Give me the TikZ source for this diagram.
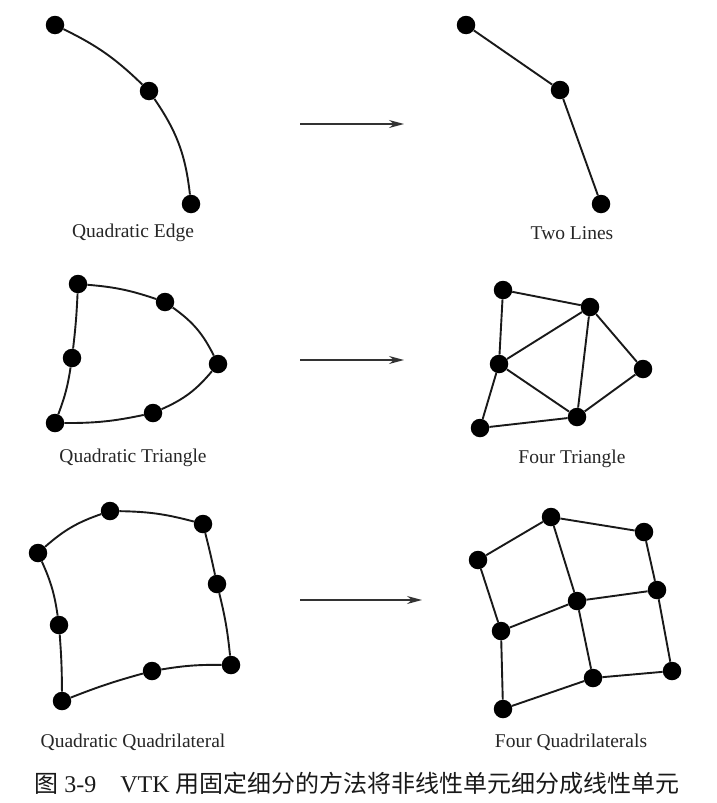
\documentclass[tikz,border=0pt]{standalone}
\usepackage{fontspec}
\setmainfont{Liberation Serif}
\newfontfamily\cjk{Noto Sans CJK SC}
\usetikzlibrary{arrows.meta}

\begin{document}
\begin{tikzpicture}[x=1pt, y=-1pt,
  vtx/.style={circle, fill=black, minimum size=18.5pt, inner sep=0pt},
  edg/.style={line width=1.9pt, color=black!90},
  sub/.style={-{Stealth[length=15pt, width=8pt]}, line width=1.2pt, color=black!80},
  lbl/.style={font=\fontsize{19.5}{22}\selectfont, color=black!85}
]
  \useasboundingbox (0,0) rectangle (716,803);

  % ── quadratic edge ──────────────────────────────────────────────────────
  \node[vtx] (a1) at (55,25)  {};
  \node[vtx] (a2) at (149,91) {};
  \node[vtx] (a3) at (191,204) {};
  \draw[edg] (a1) to[bend left=9] (a2);
  \draw[edg] (a2) to[bend left=14] (a3);
  \node[lbl] (a) at (133,233) {Quadratic Edge};

  % ── two lines ───────────────────────────────────────────────────────────
  \node[vtx] (b1) at (466,25)  {};
  \node[vtx] (b2) at (560,90)  {};
  \node[vtx] (b3) at (601,204) {};
  \draw[edg] (b1) -- (b2);
  \draw[edg] (b2) -- (b3);
  \node[lbl] (b) at (572,233) {Two Lines};

  % ── quadratic triangle ──────────────────────────────────────────────────
  \node[vtx] (c1) at (78,284)  {};
  \node[vtx] (c2) at (165,302) {};
  \node[vtx] (c3) at (218,364) {};
  \node[vtx] (c4) at (153,413) {};
  \node[vtx] (c5) at (55,423)  {};
  \node[vtx] (c6) at (72,358)  {};
  \draw[edg] (c1) to[bend left=7] (c2);
  \draw[edg] (c2) to[bend left=14] (c3);
  \draw[edg] (c3) to[bend left=13] (c4);
  \draw[edg] (c4) to[bend left=6] (c5);
  \draw[edg] (c5) to[bend right=6] (c6);
  \draw[edg] (c6) to[bend right=2] (c1);
  \node[lbl] (c) at (133,458) {Quadratic Triangle};

  % ── four triangle ───────────────────────────────────────────────────────
  \node[vtx] (d1) at (503,290) {};
  \node[vtx] (d2) at (590,307) {};
  \node[vtx] (d3) at (643,369) {};
  \node[vtx] (d4) at (577,417) {};
  \node[vtx] (d5) at (480,428) {};
  \node[vtx] (d6) at (499,364) {};
  \foreach \s/\t in {d1/d2, d2/d3, d3/d4, d4/d5, d5/d6, d6/d1, d6/d2, d2/d4, d4/d6}
    \draw[edg] (\s) -- (\t);
  \node[lbl] (d) at (572,459) {Four Triangle};

  % ── quadratic quadrilateral ─────────────────────────────────────────────
  \node[vtx] (e1) at (38,553)  {};
  \node[vtx] (e2) at (110,511) {};
  \node[vtx] (e3) at (203,524) {};
  \node[vtx] (e4) at (217,584) {};
  \node[vtx] (e5) at (231,665) {};
  \node[vtx] (e6) at (152,671) {};
  \node[vtx] (e7) at (62,701)  {};
  \node[vtx] (e8) at (59,625)  {};
  \draw[edg] (e1) to[bend left=11] (e2);
  \draw[edg] (e2) to[bend left=7] (e3);
  \draw[edg] (e3) to[bend left=1] (e4);
  \draw[edg] (e4) to[bend left=4] (e5);
  \draw[edg] (e5) to[bend right=5] (e6);
  \draw[edg] (e6) to[bend right=3] (e7);
  \draw[edg] (e7) to[bend right=2] (e8);
  \draw[edg] (e8) to[bend right=8] (e1);
  \node[lbl] (e) at (133,742) {Quadratic Quadrilateral};

  % ── four quadrilaterals ─────────────────────────────────────────────────
  \node[vtx] (f1) at (478,560) {};
  \node[vtx] (f2) at (551,517) {};
  \node[vtx] (f3) at (644,532) {};
  \node[vtx] (f4) at (657,590) {};
  \node[vtx] (f5) at (672,671) {};
  \node[vtx] (f6) at (593,678) {};
  \node[vtx] (f7) at (503,709) {};
  \node[vtx] (f8) at (501,631) {};
  \node[vtx] (f9) at (577,601) {};
  \foreach \s/\t in {f1/f2, f2/f3, f3/f4, f4/f5, f5/f6, f6/f7, f7/f8, f8/f1, f2/f9, f4/f9, f6/f9, f8/f9}
    \draw[edg] (\s) -- (\t);
  \node[lbl] (f) at (571,742) {Four Quadrilaterals};

  % ── subdivision arrows ──────────────────────────────────────────────────
  \coordinate (s1) at (300,124);
  \coordinate (t1) at (404,124);
  \coordinate (s2) at (300,360);
  \coordinate (t2) at (404,360);
  \coordinate (s3) at (300,600);
  \coordinate (t3) at (422,600);
  \draw[sub] (s1) -- (t1);
  \draw[sub] (s2) -- (t2);
  \draw[sub] (s3) -- (t3);

  % ── caption ─────────────────────────────────────────────────────────────
  \node[font=\fontsize{24}{28}\selectfont, color=black!90] (cap) at (357,783)
    {{\cjk 图} 3-9\hspace{24pt}VTK {\cjk 用固定细分的方法将非线性单元细分成线性单元}};
\end{tikzpicture}
\end{document}
